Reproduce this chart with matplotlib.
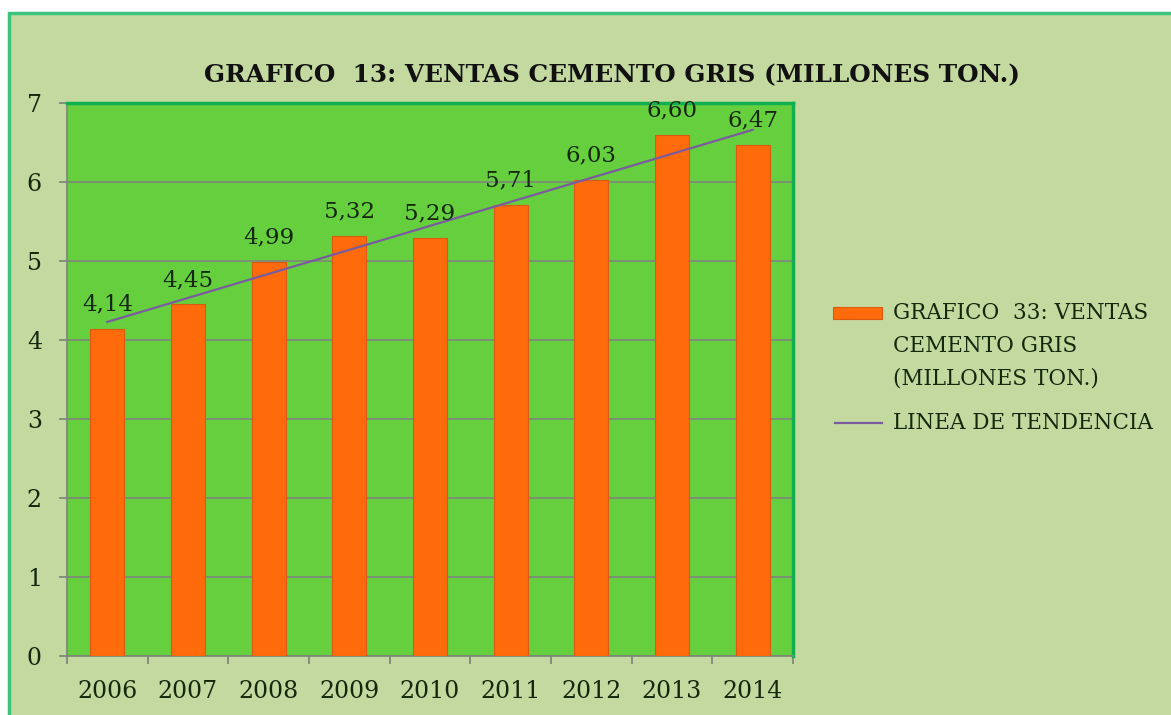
import numpy as np
import matplotlib.pyplot as plt
from matplotlib.patches import Rectangle
from matplotlib.lines import Line2D

years = ["2006", "2007", "2008", "2009", "2010", "2011", "2012", "2013", "2014"]
ventas = [4.14, 4.45, 4.99, 5.32, 5.29, 5.71, 6.03, 6.60, 6.47]
labels = ["4,14", "4,45", "4,99", "5,32", "5,29", "5,71", "6,03", "6,60", "6,47"]
legend_bar = ["GRAFICO  33: VENTAS", "CEMENTO GRIS", "(MILLONES TON.)"]
legend_line = "LINEA DE TENDENCIA"

BG = "#c3d9a0"
PLOT_BG = "#66cf3e"
BAR = "#ff6a0a"
TREND = "#7a5c9e"
TXT = "#14280c"
FONT = "DejaVu Serif"

plt.rcParams['font.family'] = [FONT]

fig = plt.figure(figsize=(11.71, 7.15), dpi=100)
fig.patch.set_facecolor("white")

# outer chart frame
frame = Rectangle((0.008, -0.05), 1.05, 1 - 13/715 + 0.05, transform=fig.transFigure,
                  facecolor=BG, edgecolor="#3cc47c", linewidth=2.5, zorder=-5)
fig.patches.append(frame)

ax = fig.add_axes([0.0572, 0.0825, 0.62, 0.7735], zorder=2)
ax.set_facecolor(PLOT_BG)

x = np.arange(len(years))
ax.bar(x, ventas, width=0.42, color=BAR, edgecolor="#d95a10", linewidth=0.8, zorder=3)

# linear trend line
coef = np.polyfit(x, ventas, 1)
ax.plot(x, np.polyval(coef, x), color=TREND, linewidth=1.6, zorder=4)

for xi, v, lab in zip(x, ventas, labels):
    ax.text(xi, v + 0.23, lab, ha="center", va="baseline", fontsize=16.5, color=TXT, zorder=5)

ax.set_xlim(-0.5, len(years) - 0.5)
ax.set_ylim(0, 7)
ax.set_yticks(range(0, 8))
ax.yaxis.grid(True, color="#7f8a7a", linewidth=1.3, zorder=1)
ax.set_axisbelow(True)

ax.set_xticks(x)
ax.set_xticklabels(years, fontsize=17, color=TXT)
ax.set_xticks(np.arange(-0.5, len(years)), minor=True)
ax.tick_params(axis="x", which="major", length=0, pad=17)
ax.tick_params(axis="x", which="minor", length=6, color="#7f8a7a", width=1.3)
ax.tick_params(axis="y", length=6, color="#7f8a7a", width=1.3, labelsize=17, labelcolor=TXT, pad=12)

for side in ["top", "right"]:
    ax.spines[side].set_color("#10b050")
    ax.spines[side].set_linewidth(2.5)
for side in ["left", "bottom"]:
    ax.spines[side].set_color("#7f8a7a")
    ax.spines[side].set_linewidth(1.3)

fig.text(0.523, 0.895, "GRAFICO  13: VENTAS CEMENTO GRIS (MILLONES TON.)",
         ha="center", va="center", fontsize=17.8, fontweight="bold", color="#111111")

# legend, laid out by hand so the bar swatch sits beside the first line
W, H = 1171, 715
fig.patches.append(Rectangle((833 / W, 1 - 319 / H), 49 / W, 12 / H, transform=fig.transFigure,
                             facecolor=BAR, edgecolor="#d95a10", linewidth=0.8))
for i, line in enumerate(legend_bar):
    fig.text(893 / W, 1 - (313 + 32.5 * i) / H, line, ha="left", va="center",
             fontsize=15.5, color=TXT)
fig.lines.append(Line2D([835 / W, 882 / W], [1 - 423 / H, 1 - 423 / H], transform=fig.transFigure,
                        color=TREND, linewidth=1.6))
fig.text(893 / W, 1 - 423 / H, legend_line, ha="left", va="center", fontsize=15.5, color=TXT)

fig.savefig("out.png", dpi=100, facecolor=fig.get_facecolor())
